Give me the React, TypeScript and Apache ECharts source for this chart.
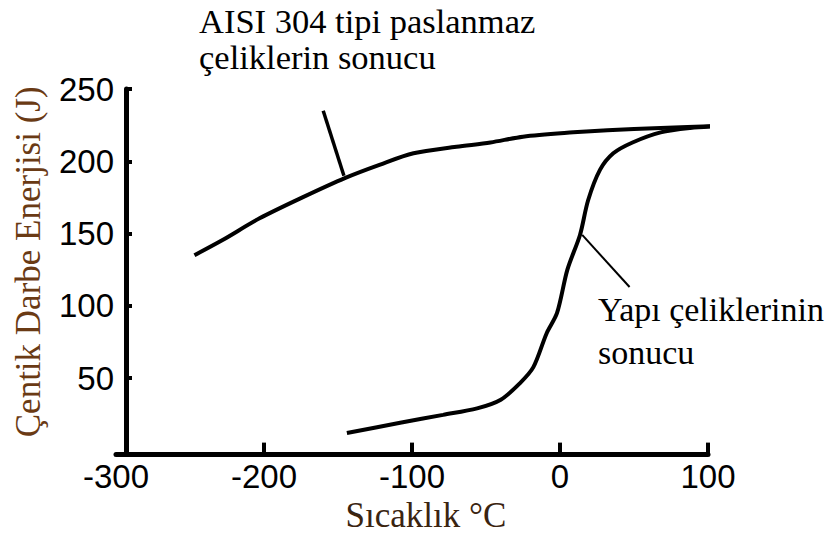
import React, { useEffect, useRef } from "react";
import * as echarts from "echarts";

// AISI 304 stainless steel curve (temperature °C, impact energy J)
const aisiTemp = [-247, -228, -203, -174, -145, -122, -99, -70, -47, -25, 9, 32, 68, 110];
const aisiEnergy = [135, 145.5, 160.5, 175, 188.5, 197.5, 205.5, 210, 213, 217, 220, 221.5, 223, 224.5];

// Structural steel curve
const yapiTemp = [-144, -108, -79, -56, -40, -27, -18, -9, -2, 5, 13.5, 19, 27, 36, 49, 68, 88, 110];
const yapiEnergy = [12, 19, 24.5, 29, 35, 46.5, 57.5, 81, 95, 125, 149, 173, 194, 205.5, 213, 220, 223, 224.5];

// Leader lines for annotations
const aisiLeader = [[-160, 235], [-146, 190]];
const yapiLeader = [[15, 149], [47, 113]];

// Axis ticks/labels
const xTicks = [-200, -100, 0, 100];
const xLabels = [-300, -200, -100, 0, 100];
const yTicks = [50, 100, 150, 200, 250];

const xName = "Sıcaklık °C";
const yName = "Çentik Darbe Enerjisi (J)";
const aisiText = ["AISI 304 tipi paslanmaz", "çeliklerin sonucu"];
const yapiText = ["Yapı çeliklerinin", "sonucu"];

const SERIF = '"Liberation Serif", "Times New Roman", serif';
const SANS = '"Liberation Sans", Arial, sans-serif';

export default function App() {
  const ref = useRef<HTMLDivElement>(null);
  useEffect(() => {
    if (!ref.current) return;
    const chart = echarts.init(ref.current, undefined, { renderer: "svg" });
    const zip = (xs: number[], ys: number[]) => xs.map((x, i) => [x, ys[i]]);
    chart.setOption({
      animation: false,
      backgroundColor: "#fff",
      grid: { left: 116, right: 121, top: 89, bottom: 82.4, containLabel: false, outerBoundsMode: "none" },
      xAxis: {
        type: "value",
        min: -300,
        max: 100,
        splitLine: { show: false },
        axisLine: { onZero: false, lineStyle: { color: "#000", width: 5 } },
        axisTick: { inside: true, length: 12, customValues: xTicks, lineStyle: { color: "#000", width: 4 } },
        axisLabel: { customValues: xLabels, fontSize: 33, fontFamily: SANS, color: "#000", margin: 5 },
        name: xName,
        nameLocation: "middle",
        nameGap: 40,
        nameTextStyle: { fontSize: 35, fontFamily: SERIF, color: "#3a2410", padding: [0, 0, 0, 28] },
      },
      yAxis: {
        type: "value",
        min: -3,
        max: 250,
        offset: -10,
        splitLine: { show: false },
        axisLine: { onZero: false, lineStyle: { color: "#000", width: 5 } },
        axisTick: { inside: true, length: 6, customValues: yTicks, lineStyle: { color: "#000", width: 4 } },
        axisLabel: { customValues: yTicks, fontSize: 33, fontFamily: SANS, color: "#000", margin: 12 },
        name: yName,
        nameLocation: "middle",
        nameRotate: 90,
        nameGap: 80,
        nameTextStyle: { fontSize: 35, fontFamily: SERIF, color: "#6a3a14", padding: [0, 0, 0, 20] },
      },
      series: [
        {
          type: "line",
          data: zip(aisiTemp, aisiEnergy),
          smooth: 0.3,
          clip: false,
          symbol: "none",
          lineStyle: { color: "#000", width: 4 },
        },
        {
          type: "line",
          data: zip(yapiTemp, yapiEnergy),
          smooth: 0.3,
          clip: false,
          symbol: "none",
          lineStyle: { color: "#000", width: 4 },
        },
        {
          type: "line",
          data: aisiLeader,
          clip: false,
          symbol: "none",
          lineStyle: { color: "#000", width: 3.5 },
        },
        {
          type: "line",
          data: yapiLeader,
          symbol: "none",
          lineStyle: { color: "#000", width: 2 },
        },
      ],
      graphic: [
        { type: "text", x: 199, y: 20.5, style: { text: aisiText[0], font: `34.5px ${SERIF}`, fill: "#000", textAlign: "left", textVerticalAlign: "middle" } },
        { type: "text", x: 199, y: 56.5, style: { text: aisiText[1], font: `34.5px ${SERIF}`, fill: "#000", textAlign: "left", textVerticalAlign: "middle" } },
        { type: "text", x: 598, y: 309, style: { text: yapiText[0], font: `34px ${SERIF}`, fill: "#000", textAlign: "left", textVerticalAlign: "middle" } },
        { type: "text", x: 598, y: 352, style: { text: yapiText[1], font: `34px ${SERIF}`, fill: "#000", textAlign: "left", textVerticalAlign: "middle" } },
      ],
    });
    return () => chart.dispose();
  }, []);
  return <div ref={ref} style={{ position: "fixed", left: 0, top: 0, width: 829, height: 537 }} />;
}
